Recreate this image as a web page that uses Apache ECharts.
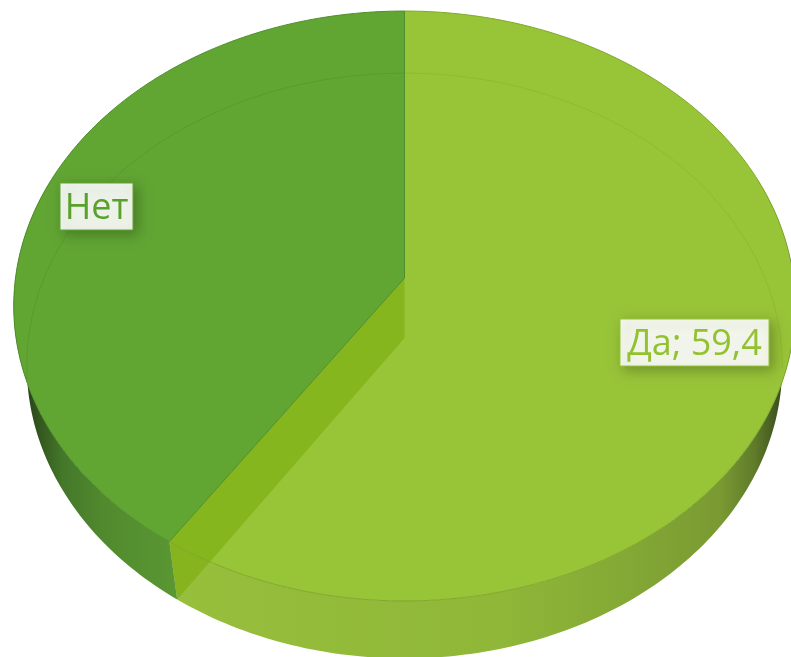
<!DOCTYPE html>
<html>
<head>
<meta charset="utf-8">
<style>html,body{margin:0;padding:0;background:#fff}#main{width:791px;height:657px}</style>
<script src="https://cdn.jsdelivr.net/npm/echarts@6/dist/echarts.min.js"></script>
</head>
<body>
<div id="main"></div>
<script>
var categories = ['Да', 'Нет'];
var values = [59.4, 40.6];
var labelTexts = ['Да; 59,4', 'Нет'];

var total = values[0] + values[1];
var cx = 404.5, persp = -0.0949;
var topDisc = {y: 278, rx: 389, ry: 292.3};
var baseDisc = {y: 338, rx: 376, ry: 290};

// slice styles, same order as categories
var sliceStyle = [
  {top: '#98c438', rim: '#7fa82c', farLine: '#8fba34', edge: '#86b02a',
   wallX: [176, 790],
   wall: [[0, '#97bf3c'], [0.53, '#90b738'], [0.74, '#83a835'], [0.886, '#7a9a32'], [0.943, '#5f7b2a'], [0.967, '#4a6224'], [1, '#2f4015']]},
  {top: '#61a533', rim: '#4f8f2c', farLine: '#579c30', edge: '#4f8f2c',
   wallX: [14, 178],
   wall: [[0, '#1f3413'], [0.06, '#263f18'], [0.15, '#33561e'], [0.3, '#44782a'], [0.55, '#518a2e'], [1, '#5a9833']]}
];
var labelBox = [
  {x: 620, y: 319, w: 149, h: 47, border: '#98c438', color: '#93c130'},
  {x: 60, y: 183, w: 73, h: 47, border: '#61a533', color: '#5aa12c'}
];

// angle in degrees clockwise from the top of the pie, with perspective
function project(deg, disc) {
  var a = deg * Math.PI / 180;
  var u = Math.sin(a), v = -Math.cos(a);
  var w = 1 + persp * v;
  return [cx + disc.rx * u / w, disc.y + disc.ry * v / w];
}

function arc(from, to, disc) {
  var pts = [];
  var n = Math.max(2, Math.ceil(Math.abs(to - from)));
  for (var i = 0; i <= n; i++) {
    pts.push(project(from + (to - from) * i / n, disc));
  }
  return pts;
}

function renderSlice(params, api) {
  var i = params.dataIndex;
  var st = sliceStyle[i];
  var start = 0;
  for (var k = 0; k < i; k++) start += values[k];
  var a0 = start / total * 360;
  var a1 = (start + api.value(0)) / total * 360;
  var children = [];

  // front wall
  var w0 = i === 0 ? 70 : a0;
  var w1 = i === 0 ? a1 : 290;
  var wallPts = arc(w0, w1, topDisc).concat(arc(w1, w0, baseDisc));
  children.push({
    type: 'polygon',
    shape: {points: wallPts},
    style: {
      fill: new echarts.graphic.LinearGradient(st.wallX[0], 0, st.wallX[1], 0, st.wall.map(function (c) {
        return {offset: c[0], color: c[1]};
      }), true)
    }
  });

  // top face
  var topPts = [[cx, topDisc.y]].concat(arc(a0, a1, topDisc));
  children.push({type: 'polygon', shape: {points: topPts}, style: {fill: st.top}});

  // inner cut wall of the big slice, seen through its top
  if (i === 0) {
    var r0 = project(a1, topDisc), r1 = project(a1, baseDisc);
    children.push({
      type: 'polygon',
      shape: {points: [[cx, topDisc.y], [cx, baseDisc.y], r1, r0]},
      style: {fill: 'rgba(128,176,20,0.72)'}
    });
  }

  // far half of the base disc, seen through the top
  var farFrom = i === 0 ? a0 : 262, farTo = i === 0 ? 96 : a1;
  children.push({
    type: 'polyline',
    shape: {points: arc(farFrom, farTo, baseDisc)},
    style: {fill: null, stroke: st.farLine, lineWidth: 1}
  });

  // rim of the top face
  children.push({
    type: 'polyline',
    shape: {points: arc(a0, a1, topDisc)},
    style: {fill: null, stroke: st.rim, lineWidth: 1}
  });
  // cut edges
  children.push({
    type: 'polyline',
    shape: {points: [project(a0, topDisc), [cx, topDisc.y], project(a1, topDisc)]},
    style: {fill: null, stroke: st.edge, lineWidth: 1}
  });

  // label
  var b = labelBox[i];
  children.push({
    type: 'rect',
    z2: 10,
    shape: {x: b.x, y: b.y, width: b.w, height: b.h},
    style: {
      fill: 'rgba(255,255,255,0.9)', stroke: b.border, lineWidth: 1,
      shadowBlur: 12, shadowColor: 'rgba(0,0,0,0.28)', shadowOffsetX: 4, shadowOffsetY: 4
    }
  });
  children.push({
    type: 'text',
    z2: 11,
    style: {
      x: b.x + b.w / 2, y: b.y + b.h / 2 + 2,
      text: labelTexts[i], fill: b.color,
      font: '500 36px "Open Sans", Lato, sans-serif',
      align: 'center', verticalAlign: 'middle'
    }
  });

  return {type: 'group', children: children};
}

var myChart = echarts.init(document.getElementById('main'));
myChart.setOption({
  animation: false,
  series: [{
    type: 'custom',
    coordinateSystem: 'none',
    renderItem: renderSlice,
    data: categories.map(function (name, i) { return {name: name, value: [values[i]]}; })
  }]
});
</script>
</body>
</html>
